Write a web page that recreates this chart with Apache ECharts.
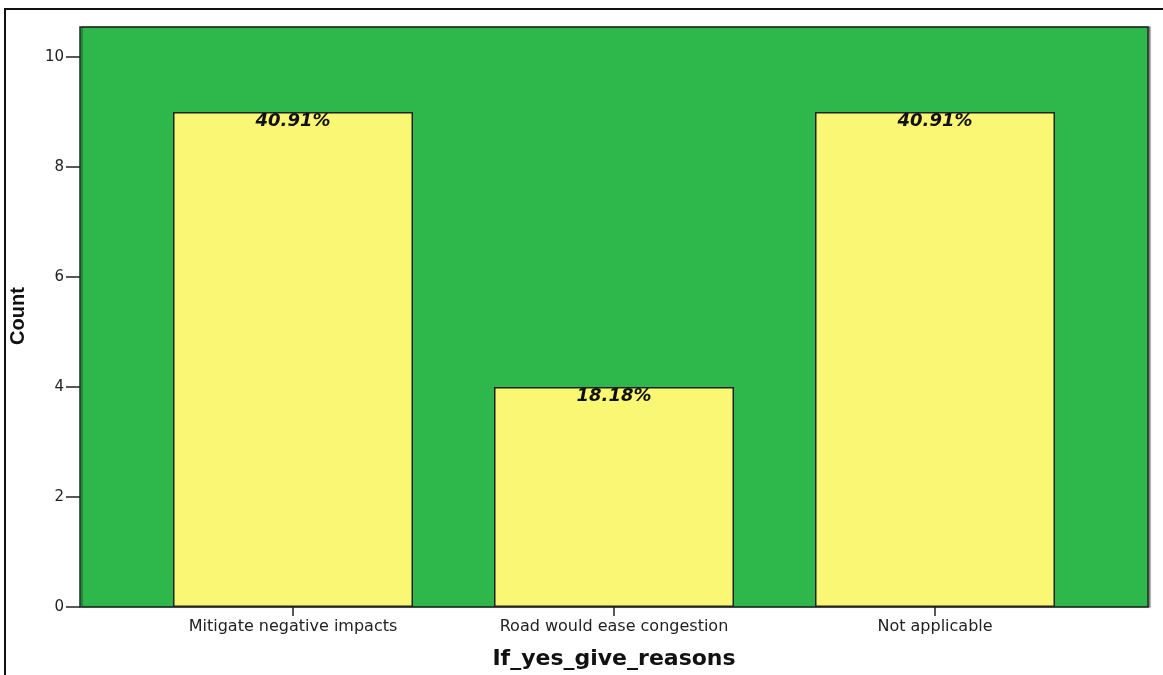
<!DOCTYPE html>
<html>
<head>
<meta charset="utf-8">
<script src="https://cdn.jsdelivr.net/npm/echarts@6/dist/echarts.min.js"></script>
<style>html,body{margin:0;padding:0;background:#fff;}#chart{width:1163px;height:675px;}</style>
</head>
<body>
<div id="chart"></div>
<script>
var categories = ['Mitigate negative impacts', 'Road would ease congestion', 'Not applicable'];
var counts = [9, 4, 9];
var percentLabels = ['40.91%', '18.18%', '40.91%'];
var yTicks = [0, 2, 4, 6, 8, 10];

var chart = echarts.init(document.getElementById('chart'));
var option = {
  animation: false,
  backgroundColor: '#ffffff',
  graphic: [
    { type: 'rect', z: -10, silent: true,
      shape: { x: 5, y: 9, width: 1180, height: 700 },
      style: { fill: '#ffffff', stroke: '#111111', lineWidth: 2 } },
    { type: 'rect', z: -9, silent: true,
      shape: { x: 80, y: 27, width: 1068, height: 580 },
      style: { fill: '#2eb84b', stroke: '#1e2a1e', lineWidth: 1.5, shadowColor: 'rgba(0,0,0,0.35)', shadowOffsetX: 2, shadowOffsetY: 0, shadowBlur: 1 } }
  ],
  grid: { left: 132.5, right: 67.5, top: 57, bottom: 68, containLabel: false },
  xAxis: {
    type: 'category',
    data: categories,
    axisLine: { show: false },
    axisTick: { show: true, alignWithLabel: true, length: 9, lineStyle: { color: '#222', width: 1.5 } },
    axisLabel: { color: '#222', fontFamily: 'DejaVu Sans', fontSize: 16, margin: 12 },
    name: 'If_yes_give_reasons',
    nameLocation: 'middle',
    nameGap: 41,
    nameTextStyle: { color: '#111', fontFamily: 'DejaVu Sans', fontWeight: 'bold', fontSize: 22 }
  },
  yAxis: {
    type: 'value',
    min: 0, max: 10, interval: 2,
    offset: 52.5,
    axisLine: { show: false },
    axisTick: { show: true, length: 14, lineStyle: { color: '#222', width: 1.5 } },
    splitLine: { show: false },
    axisLabel: { color: '#222', fontFamily: 'DejaVu Sans', fontSize: 15, margin: 16,
      formatter: function (v) { return yTicks.indexOf(v) >= 0 ? String(v) : ''; } },
    name: 'Count',
    nameLocation: 'middle',
    nameGap: 52,
    nameRotate: 90,
    nameTextStyle: { color: '#111', fontFamily: 'Liberation Sans', fontWeight: 'bold', fontSize: 20, padding: [0, 0, 0, 32] }
  },
  series: [{
    type: 'bar',
    data: counts,
    barWidth: 240,
    itemStyle: { color: '#faf775', borderColor: '#222', borderWidth: 1.5 },
    label: {
      show: true,
      position: 'insideTop',
      distance: 0,
      formatter: function (p) { return percentLabels[p.dataIndex]; },
      color: '#111',
      fontFamily: 'DejaVu Sans',
      fontWeight: 'bold',
      fontStyle: 'italic',
      fontSize: 18
    }
  }]
};
chart.setOption(option);
</script>
</body>
</html>
